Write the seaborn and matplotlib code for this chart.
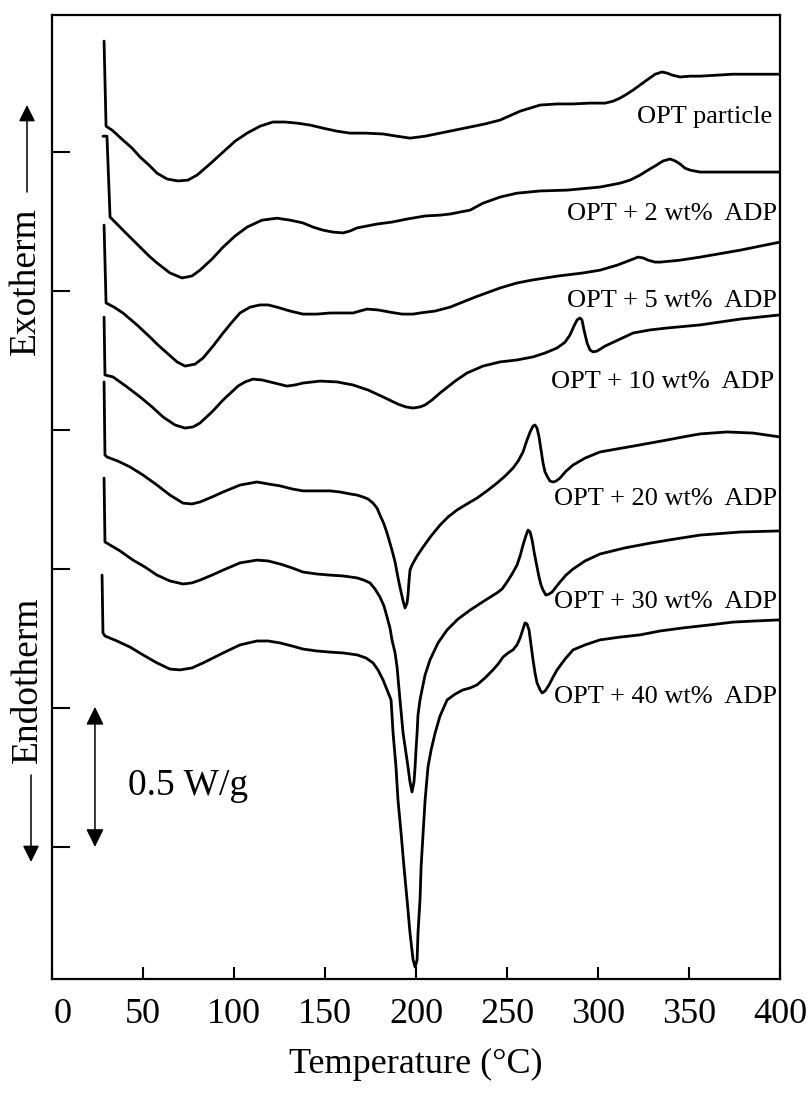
import matplotlib
matplotlib.use("Agg")
import matplotlib.pyplot as plt
import matplotlib.transforms as mtransforms
import numpy as np
import pandas as pd
import seaborn as sns

# DSC traces (temperature in C, heat flow in W/g incl. stacking offset)
t_opt = [28.6, 29.7, 33.0, 39.0, 44.0, 48.4, 53.3, 57.7, 63.2, 69.2, 74.7, 79.7, 86.8, 94.0, 100.6,
         107.2, 114.3, 121.4, 128.0, 134.6, 141.8, 148.9, 156.6, 163.8, 172.5, 181.9, 189.6, 196.7,
         205.0, 213.2, 221.5, 229.7, 237.9, 246.2, 257.2, 268.2, 277.5, 286.3, 295.6, 303.9, 308.3,
         312.1, 316.0, 319.3, 323.7, 327.5, 331.4, 335.2, 337.9, 340.7, 345.1, 350.6, 356.1, 374.2, 400.0]
q_opt = [3.399, 3.093, 3.079, 3.043, 3.014, 2.982, 2.953, 2.924, 2.903, 2.896, 2.899, 2.917, 2.957,
         3.000, 3.039, 3.068, 3.093, 3.108, 3.108, 3.104, 3.097, 3.086, 3.075, 3.068, 3.068, 3.065,
         3.057, 3.050, 3.057, 3.068, 3.079, 3.090, 3.101, 3.115, 3.147, 3.169, 3.173, 3.173, 3.176,
         3.176, 3.183, 3.194, 3.209, 3.223, 3.244, 3.262, 3.280, 3.288, 3.284, 3.277, 3.270, 3.273,
         3.273, 3.280, 3.280]

t_2 = [28.0, 30.2, 31.9, 40.1, 48.4, 53.3, 57.7, 64.8, 71.4, 76.9, 81.3, 87.9, 94.0, 100.6, 107.2,
       115.4, 123.6, 130.8, 137.9, 143.4, 148.9, 154.4, 159.9, 163.8, 167.6, 173.1, 178.6, 186.8,
       195.1, 205.0, 213.2, 218.7, 229.7, 236.8, 246.2, 255.5, 268.2, 283.0, 301.1, 312.1, 317.6,
       323.1, 327.5, 331.4, 335.8, 339.6, 342.4, 345.1, 347.8, 350.6, 356.1, 361.6, 400.0]
q_2 = [3.057, 3.057, 2.766, 2.712, 2.658, 2.626, 2.601, 2.565, 2.547, 2.554, 2.575, 2.615, 2.658,
       2.698, 2.730, 2.755, 2.762, 2.755, 2.745, 2.730, 2.719, 2.712, 2.709, 2.716, 2.727, 2.734,
       2.741, 2.748, 2.759, 2.770, 2.773, 2.777, 2.791, 2.816, 2.838, 2.852, 2.860, 2.863, 2.874,
       2.888, 2.899, 2.917, 2.935, 2.950, 2.968, 2.975, 2.968, 2.957, 2.942, 2.935, 2.928, 2.928, 2.928]

t_5 = [28.6, 29.7, 34.1, 39.0, 46.7, 53.9, 58.2, 63.2, 68.7, 73.1, 78.6, 83.0, 88.5, 94.0, 98.9,
       103.3, 108.8, 114.3, 118.7, 123.6, 130.8, 137.9, 145.6, 152.8, 159.4, 165.4, 169.2, 173.1,
       179.1, 185.7, 192.3, 198.4, 202.2, 210.5, 218.7, 232.4, 246.2, 255.5, 264.3, 278.0, 291.8,
       301.1, 310.5, 316.5, 322.0, 324.8, 327.5, 331.4, 334.1, 345.1, 356.1, 378.1, 400.0]
q_5 = [2.737, 2.457, 2.442, 2.421, 2.378, 2.334, 2.306, 2.277, 2.245, 2.230, 2.237, 2.259, 2.302,
       2.349, 2.388, 2.421, 2.442, 2.450, 2.450, 2.442, 2.428, 2.417, 2.417, 2.421, 2.421, 2.421,
       2.428, 2.435, 2.432, 2.424, 2.417, 2.417, 2.421, 2.428, 2.442, 2.478, 2.511, 2.529, 2.540,
       2.554, 2.565, 2.575, 2.593, 2.608, 2.622, 2.619, 2.611, 2.604, 2.604, 2.611, 2.622, 2.647, 2.676]

t_10 = [28.6, 29.1, 33.5, 41.2, 48.4, 55.0, 61.0, 67.6, 73.1, 77.5, 81.3, 87.9, 94.0, 102.2, 106.1,
        110.4, 115.4, 119.8, 129.1, 133.5, 137.9, 147.3, 156.6, 165.4, 173.6, 181.9, 190.1, 194.5,
        198.4, 202.2, 205.0, 208.8, 213.2, 221.5, 228.0, 236.8, 246.2, 255.5, 264.3, 270.9, 277.5,
        281.9, 284.6, 286.8, 288.5, 290.1, 291.2, 292.3, 294.0, 295.6, 297.3, 299.5, 303.9, 312.1,
        319.3, 328.6, 337.9, 356.1, 378.1, 400.0]
q_10 = [2.406, 2.198, 2.191, 2.155, 2.119, 2.083, 2.047, 2.018, 2.007, 2.011, 2.025, 2.065, 2.108,
        2.158, 2.173, 2.183, 2.180, 2.173, 2.158, 2.162, 2.169, 2.176, 2.173, 2.162, 2.144, 2.119,
        2.093, 2.083, 2.079, 2.083, 2.090, 2.108, 2.133, 2.176, 2.205, 2.230, 2.245, 2.252, 2.263,
        2.277, 2.295, 2.316, 2.342, 2.374, 2.396, 2.403, 2.396, 2.360, 2.313, 2.288, 2.281, 2.284,
        2.302, 2.327, 2.349, 2.360, 2.367, 2.378, 2.399, 2.414]

t_20 = [28.6, 29.1, 30.2, 36.3, 42.9, 50.0, 57.7, 64.8, 72.0, 76.9, 81.3, 87.9, 94.0, 103.3, 112.6,
        118.7, 125.3, 131.9, 137.9, 145.6, 152.8, 158.3, 163.8, 167.6, 170.9, 173.6, 176.4, 178.6,
        180.2, 182.4, 184.1, 185.7, 186.8, 188.5, 189.6, 190.7, 191.8, 192.9, 194.0, 195.1, 195.6,
        196.2, 196.7, 197.8, 200.6, 203.9, 208.3, 213.2, 217.6, 222.5, 228.0, 233.5, 239.0, 244.5,
        248.9, 253.3, 256.1, 258.8, 261.0, 262.7, 264.3, 265.4, 266.5, 267.6, 268.7, 269.8, 270.9,
        272.6, 273.7, 275.3, 276.9, 279.1, 282.4, 286.3, 292.9, 301.1, 310.5, 319.3, 328.6, 337.9,
        346.7, 356.1, 370.9, 385.2, 400.0]
q_20 = [2.173, 1.910, 1.903, 1.888, 1.867, 1.838, 1.802, 1.766, 1.737, 1.734, 1.741, 1.759, 1.777,
        1.802, 1.813, 1.806, 1.799, 1.788, 1.781, 1.781, 1.781, 1.777, 1.770, 1.766, 1.759, 1.752,
        1.737, 1.719, 1.694, 1.662, 1.629, 1.593, 1.568, 1.525, 1.486, 1.450, 1.417, 1.385, 1.360,
        1.378, 1.406, 1.460, 1.496, 1.514, 1.547, 1.579, 1.619, 1.658, 1.687, 1.712, 1.734, 1.755,
        1.781, 1.809, 1.834, 1.863, 1.888, 1.921, 1.964, 1.993, 2.014, 2.018, 2.007, 1.975, 1.928,
        1.881, 1.849, 1.827, 1.816, 1.813, 1.816, 1.827, 1.852, 1.874, 1.899, 1.921, 1.932, 1.942,
        1.953, 1.964, 1.975, 1.986, 1.993, 1.989, 1.975]

t_30 = [28.6, 29.1, 30.2, 37.4, 44.5, 51.1, 57.7, 64.8, 72.0, 76.9, 81.3, 87.9, 94.0, 103.3, 112.6,
        118.7, 125.3, 131.9, 137.9, 145.6, 152.8, 159.9, 167.6, 171.4, 174.7, 177.5, 180.2, 182.4,
        184.1, 185.7, 186.8, 188.5, 189.6, 191.2, 192.9, 194.5, 195.6, 196.7, 197.8, 198.9, 199.5,
        200.0, 200.6, 201.1, 202.2, 203.3, 205.0, 207.7, 212.1, 217.1, 223.1, 229.7, 237.4, 244.5,
        247.3, 250.0, 252.8, 255.5, 257.2, 258.8, 260.5, 261.6, 262.7, 263.8, 264.9, 266.5, 267.6,
        268.7, 269.8, 271.4, 273.1, 274.8, 276.9, 279.1, 282.4, 286.3, 292.9, 301.1, 314.9, 328.6,
        342.4, 356.1, 378.1, 400.0]
q_30 = [1.827, 1.597, 1.593, 1.565, 1.532, 1.507, 1.478, 1.457, 1.446, 1.450, 1.460, 1.478, 1.496,
        1.522, 1.532, 1.529, 1.518, 1.504, 1.489, 1.482, 1.478, 1.475, 1.468, 1.460, 1.450, 1.428,
        1.399, 1.367, 1.327, 1.288, 1.245, 1.198, 1.147, 1.029, 0.910, 0.838, 0.788, 0.734, 0.698,
        0.734, 0.788, 0.849, 0.910, 0.975, 1.029, 1.065, 1.119, 1.173, 1.234, 1.281, 1.320, 1.352,
        1.385, 1.414, 1.428, 1.453, 1.482, 1.514, 1.547, 1.586, 1.622, 1.640, 1.633, 1.604, 1.561,
        1.507, 1.471, 1.442, 1.424, 1.406, 1.410, 1.417, 1.435, 1.453, 1.478, 1.500, 1.529, 1.554,
        1.576, 1.593, 1.608, 1.622, 1.633, 1.637]

t_40 = [27.5, 28.0, 29.1, 35.7, 42.9, 50.0, 57.7, 64.8, 70.3, 76.9, 83.0, 88.5, 94.0, 103.3, 112.6,
        118.7, 125.3, 131.9, 137.9, 145.6, 152.8, 159.9, 167.6, 172.5, 176.4, 179.1, 181.9, 184.1,
        186.3, 187.4, 189.0, 190.1, 191.8, 193.4, 195.1, 196.7, 198.4, 199.5, 200.6, 201.1, 202.2,
        202.8, 203.9, 205.0, 206.6, 208.3, 210.5, 213.2, 217.1, 221.5, 225.8, 229.7, 233.5, 237.9,
        242.3, 245.1, 247.8, 250.6, 253.3, 255.5, 257.2, 258.8, 259.9, 261.0, 262.1, 263.2, 264.3,
        265.4, 266.5, 268.2, 269.3, 270.9, 273.1, 275.3, 277.5, 281.9, 286.3, 292.9, 301.1, 312.1,
        323.1, 334.1, 346.7, 361.6, 374.2, 386.3, 400.0]
q_40 = [1.478, 1.270, 1.259, 1.241, 1.219, 1.191, 1.162, 1.140, 1.137, 1.144, 1.162, 1.180, 1.198,
        1.227, 1.241, 1.241, 1.234, 1.223, 1.212, 1.205, 1.201, 1.198, 1.191, 1.180, 1.162, 1.137,
        1.101, 1.065, 1.029, 0.910, 0.788, 0.669, 0.550, 0.428, 0.309, 0.191, 0.094, 0.068, 0.094,
        0.191, 0.309, 0.428, 0.550, 0.669, 0.788, 0.849, 0.910, 0.971, 1.029, 1.050, 1.065, 1.072,
        1.083, 1.108, 1.137, 1.158, 1.183, 1.198, 1.209, 1.227, 1.252, 1.284, 1.306, 1.302, 1.281,
        1.227, 1.173, 1.126, 1.090, 1.065, 1.054, 1.061, 1.083, 1.111, 1.137, 1.176, 1.209, 1.227,
        1.245, 1.255, 1.263, 1.277, 1.288, 1.299, 1.309, 1.313, 1.317]

samples = ["OPT particle", "OPT + 2 wt%  ADP", "OPT + 5 wt%  ADP", "OPT + 10 wt%  ADP",
           "OPT + 20 wt%  ADP", "OPT + 30 wt%  ADP", "OPT + 40 wt%  ADP"]
label_x = [396, 398.5, 398.5, 396.5, 398.5, 398.5, 398.5]
label_y = [3.104, 2.755, 2.442, 2.151, 1.730, 1.360, 1.018]

x_ticks = [0, 50, 100, 150, 200, 250, 300, 350, 400]
y_ticks = [0.5, 1.0, 1.5, 2.0, 2.5, 3.0]

temps = [t_opt, t_2, t_5, t_10, t_20, t_30, t_40]
flows = [q_opt, q_2, q_5, q_10, q_20, q_30, q_40]
frames = []
for name, t, q in zip(samples, temps, flows):
    frames.append(pd.DataFrame({"Temperature": t, "Heat flow": q, "sample": name}))
df = pd.concat(frames, ignore_index=True)

black = {"axes.edgecolor": "black", "text.color": "black", "axes.labelcolor": "black",
         "xtick.color": "black", "ytick.color": "black"}
sns.set_style("ticks", black)
plt.rcParams['font.family'] = ['Liberation Serif', 'DejaVu Serif']

fig = plt.figure(figsize=(8.09, 10.93), dpi=100)
ax = fig.add_axes([52/809, 1-979/1093, 728/809, 964/1093])

sns.lineplot(data=df, x="Temperature", y="Heat flow", units="sample", estimator=None,
             sort=False, color="black", lw=2.0, ax=ax, legend=False)
for ln in ax.lines:
    ln.set_solid_joinstyle("round")

ax.set_xlim(0, 400)
ax.set_ylim(0.025, 3.493)
ax.set_xticks(x_ticks)
ax.set_yticks(y_ticks)
ax.set_yticklabels([])
ax.tick_params(axis="x", direction="in", length=9, width=1.5, labelsize=26, pad=14)
ax.tick_params(axis="y", direction="in", length=13, width=1.5)
for s in ax.spines.values():
    s.set_visible(True)
    s.set_linewidth(1.6)
ax.set_ylabel("")
ax.set_xlabel("Temperature (\u00b0C)", fontsize=26)
ax.xaxis.set_label_coords(0.5, -0.072)

# nudge the "0" label off the spine like the original
lab0 = ax.get_xticklabels()[0]
lab0.set_transform(lab0.get_transform() + mtransforms.ScaledTranslation(0.11, 0, fig.dpi_scale_trans))

for name, lx, ly in zip(samples, label_x, label_y):
    ax.text(lx, ly, name, fontsize=19, ha="right", va="baseline")

# 0.5 W/g scale bar
ax.annotate("", xy=(23.6, 1.004), xytext=(23.6, 0.5),
            arrowprops=dict(arrowstyle="<|-|>,head_length=0.55,head_width=0.27",
                            color="black", lw=1.1, mutation_scale=20, shrinkA=0, shrinkB=0))
ax.text(41.8, 0.687, "0.5 W/g", fontsize=27, ha="left", va="baseline")

# exo / endo direction labels
fig.text(26/809, 1-281/1093, "Exotherm", rotation=90, ha="center", va="center", fontsize=27)
ax.annotate("", xy=(27/809, 1-105/1093), xytext=(27/809, 1-192/1093), xycoords="figure fraction",
            textcoords="figure fraction",
            arrowprops=dict(arrowstyle="-|>,head_length=0.5,head_width=0.25",
                            color="black", lw=1.1, mutation_scale=20, shrinkA=0, shrinkB=0))
fig.text(28/809, 1-680/1093, "Endotherm", rotation=90, ha="center", va="center", fontsize=27)
ax.annotate("", xy=(31/809, 1-862/1093), xytext=(31/809, 1-775/1093), xycoords="figure fraction",
            textcoords="figure fraction",
            arrowprops=dict(arrowstyle="-|>,head_length=0.5,head_width=0.25",
                            color="black", lw=1.1, mutation_scale=20, shrinkA=0, shrinkB=0))

fig.savefig("out.png", dpi=100)
